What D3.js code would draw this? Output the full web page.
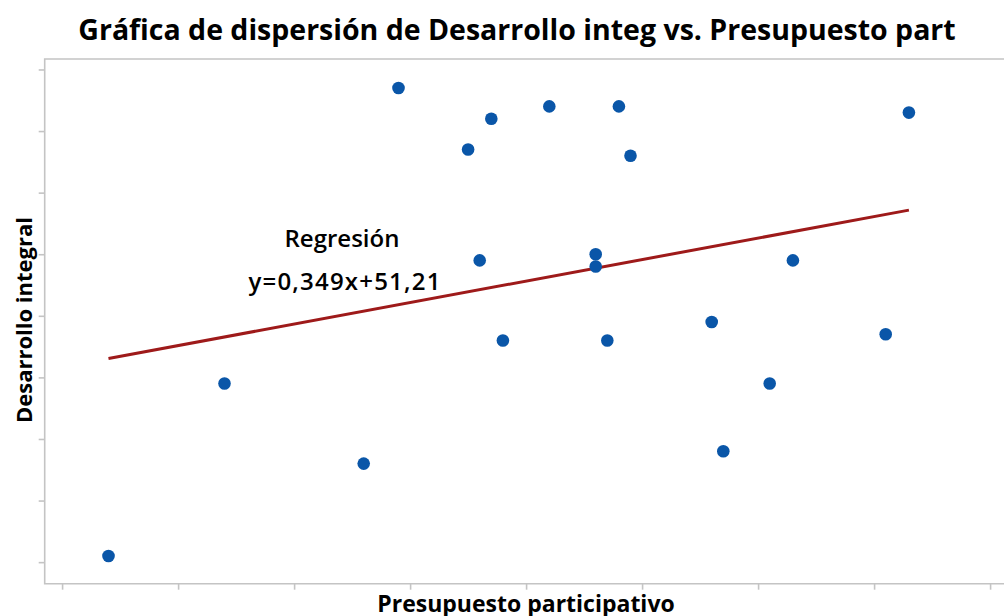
<!DOCTYPE html>
<html>
<head>
<meta charset="utf-8">
<script src="https://cdn.jsdelivr.net/npm/d3@7"></script>
<style>
  body { margin: 0; background: #fff; }
  text { font-family: "Open Sans", "Noto Sans", sans-serif; fill: #000; }
</style>
</head>
<body>
<svg id="chart" width="1004" height="616"></svg>
<script>
"use strict";

// data
var presupuesto = [34, 44, 56, 59, 65, 66, 67, 68, 72, 76, 76, 77, 78, 79, 86, 87, 91, 93, 101, 103];
var desarrollo  = [31, 59, 46, 107, 97, 79, 102, 66, 104, 80, 78, 66, 104, 96, 69, 48, 59, 79, 67, 103];
var xTicks = [30, 40, 50, 60, 70, 80, 90, 100, 110];
var yTicks = [30, 40, 50, 60, 70, 80, 90, 100, 110];
var slope = 0.349, intercept = 51.21;

var svg = d3.select("#chart"),
  x = d3.scaleLinear().domain([28.5, 111.5]).range([44.7, 1007.5]),
  y = d3.scaleLinear().domain([26.5, 111.7]).range([583.7, 59]),
  axisColor = "#c4c4c4"
;

// frame (left, top, bottom)
svg.append("path")
  .attr("d", "M" + x.range()[1] + "," + y.range()[1] + "H" + x.range()[0] + "V" + y.range()[0] + "H" + x.range()[1])
  .attr("fill", "none")
  .attr("stroke", axisColor)
  .attr("stroke-width", 1.6);

svg.append("g")
  .attr("transform", "translate(0," + y.range()[0] + ")")
  .call(d3.axisBottom(x).tickValues(xTicks).tickSize(6).tickFormat(""))
  .call(function(g){ g.select(".domain").remove(); })
  .selectAll("line").attr("stroke", axisColor).attr("stroke-width", 1.6);

svg.append("g")
  .attr("transform", "translate(" + x.range()[0] + ",0)")
  .call(d3.axisLeft(y).tickValues(yTicks).tickSize(6).tickFormat(""))
  .call(function(g){ g.select(".domain").remove(); })
  .selectAll("line").attr("stroke", axisColor).attr("stroke-width", 1.6);

// regression line over the data range
var xr = d3.extent(presupuesto);
svg.append("line")
  .attr("x1", x(xr[0]))
  .attr("y1", y(slope * xr[0] + intercept))
  .attr("x2", x(xr[1]))
  .attr("y2", y(slope * xr[1] + intercept))
  .attr("stroke", "#9e1a1a")
  .attr("stroke-width", 3);

svg.selectAll("circle.pt")
  .data(presupuesto)
  .enter()
  .append("circle")
  .attr("class", "pt")
  .attr("cx", function(d) { return x(d); })
  .attr("cy", function(d, i) { return y(desarrollo[i]); })
  .attr("r", 6.3)
  .attr("fill", "#0a56a8");

// annotation
svg.append("text")
  .attr("x", 342).attr("y", 247)
  .attr("text-anchor", "middle")
  .attr("font-size", 24).attr("font-weight", 600)
  .text("Regresión");
svg.append("text")
  .attr("x", 345).attr("y", 290)
  .attr("text-anchor", "middle")
  .attr("font-size", 24).attr("font-weight", 600)
  .attr("letter-spacing", 1.2)
  .text("y=0,349x+51,21");

// titles
svg.append("text")
  .attr("x", 517).attr("y", 40)
  .attr("text-anchor", "middle")
  .attr("font-size", 28.5).attr("font-weight", "bold")
  .text("Gráfica de dispersión de Desarrollo integ vs. Presupuesto part");

svg.append("text")
  .attr("x", 526).attr("y", 612)
  .attr("text-anchor", "middle")
  .attr("font-size", 23).attr("font-weight", "bold")
  .text("Presupuesto participativo");

svg.append("text")
  .attr("transform", "translate(32,320) rotate(-90)")
  .attr("text-anchor", "middle")
  .attr("font-size", 22).attr("font-weight", "bold")
  .text("Desarrollo integral");
</script>
</body>
</html>
